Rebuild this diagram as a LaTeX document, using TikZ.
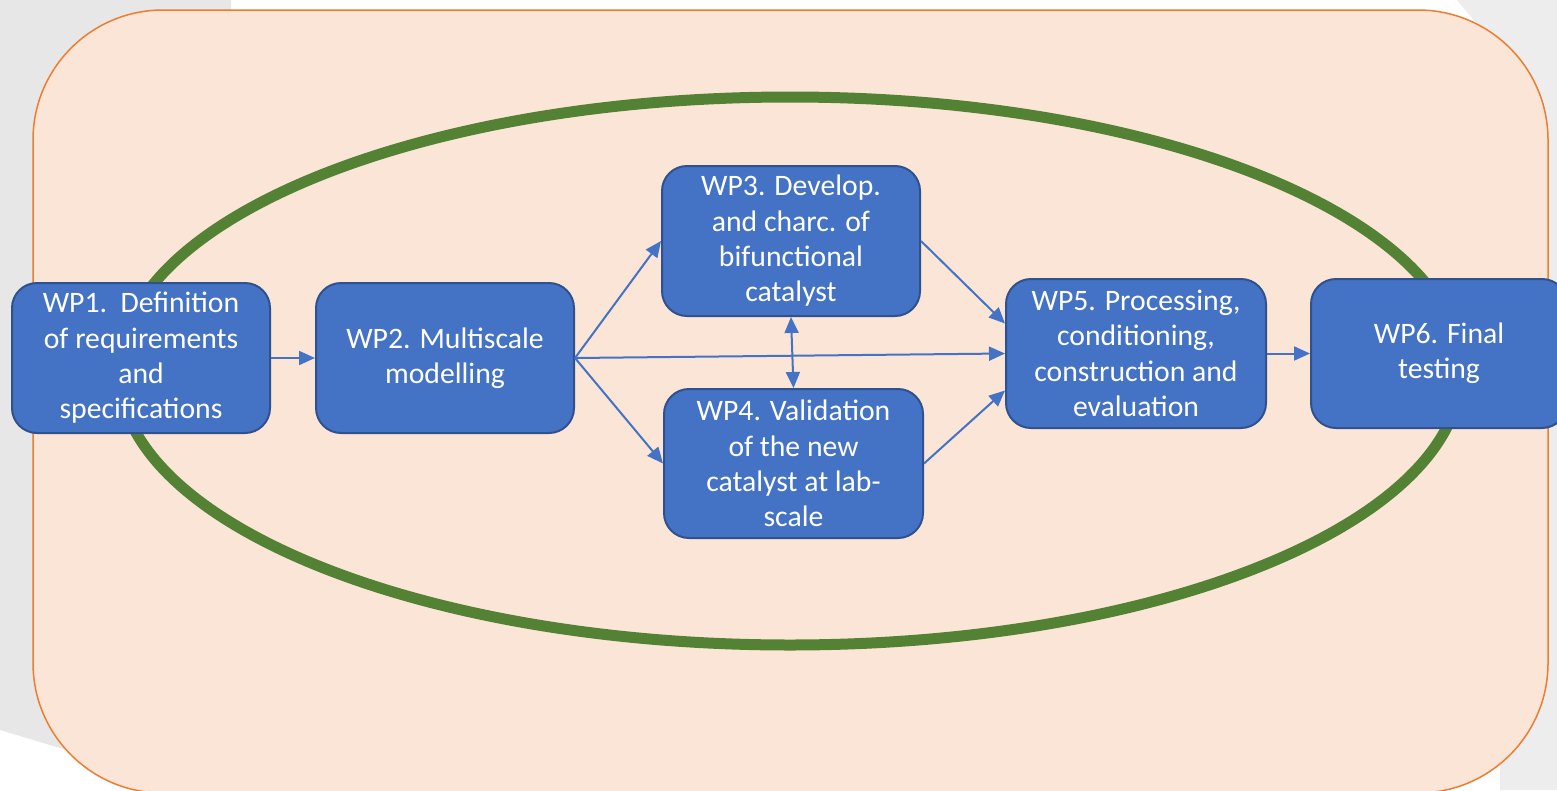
\documentclass[tikz,border=0pt]{standalone}
\usepackage{fontspec}
\setmainfont{Carlito}
\usetikzlibrary{arrows.meta,calc}
\definecolor{peach}{HTML}{FBE5D6}
\definecolor{orangeb}{HTML}{ED7D31}
\definecolor{greenl}{HTML}{548235}
\definecolor{boxfill}{HTML}{4472C4}
\definecolor{boxline}{HTML}{2F528F}
\definecolor{grayA}{HTML}{E7E7E7}
\definecolor{grayB}{HTML}{EDEDED}
\begin{document}
\begin{tikzpicture}[x=1pt,y=-1pt,
  wpbox/.style={draw=boxline, line width=2pt, fill=boxfill, rounded corners=25pt,
    minimum width=258pt, minimum height=150pt, inner sep=0pt, align=center,
    text=white, font=\fontsize{29.7}{35.3}\selectfont,
    execute at begin node={\rule{0pt}{29pt}}},
  conn/.style={draw=boxfill, line width=2pt, -{Triangle[length=16pt,width=14pt]}},
  conn2/.style={draw=boxfill, line width=2pt, {Triangle[length=16pt,width=14pt]}-{Triangle[length=16pt,width=14pt]}}]
\useasboundingbox (0,0) rectangle (1557,790);
\clip (0,0) rectangle (1557,790);
% background
\fill[white] (0,0) rectangle (1557,790);
\fill[grayA] (0,0) -- (231,0) -- (231,790) -- (200,790) -- (0,730) -- cycle;
\fill[grayB] (1457,0) -- (1557,0) -- (1557,790) -- (1500,790) -- (1500,52) -- cycle;
% frame
\draw[orangeb, line width=1.5pt, fill=peach, rounded corners=130pt] (33,10) rectangle (1548,793);
% ellipse
\draw[greenl, line width=11pt] (790,371) ellipse [x radius=671, y radius=274];
% boxes
\node[wpbox] (wp1) at (141,358) {WP1.~~Definition\\of requirements\\and\\specifications};
\node[wpbox] (wp2) at (445,358) {WP2. Multiscale\\modelling};
\node[wpbox] (wp3) at (791,241) {WP3. Develop.\\and charc. of\\bifunctional\\catalyst};
\node[wpbox, minimum width=259pt, minimum height=149pt] (wp4) at (793.5,463.5) {WP4. Validation\\of the new\\catalyst at lab-\\scale};
\node[wpbox, minimum width=260pt, minimum height=149pt] (wp5) at (1136,353.5) {WP5. Processing,\\conditioning,\\construction and\\evaluation};
\node[wpbox, minimum width=256pt, minimum height=149pt] (wp6) at (1439,353.5) {WP6. Final\\testing};
% connectors
\draw[conn] (wp1.east) -- (wp2.west);
\draw[conn] (wp2.east) -- (wp3.west);
\draw[conn] (wp2.east) -- (wp4.west);
\draw[conn] (wp2.east) -- (wp5.west);
\draw[conn] (wp3.east) -- ($(wp5.west)+(0,-30)$);
\draw[conn] (wp4.east) -- ($(wp5.west)+(0,37)$);
\draw[conn2] (wp3.south) -- (wp4.north);
\draw[conn] (wp5.east) -- (wp6.west);
\end{tikzpicture}
\end{document}
